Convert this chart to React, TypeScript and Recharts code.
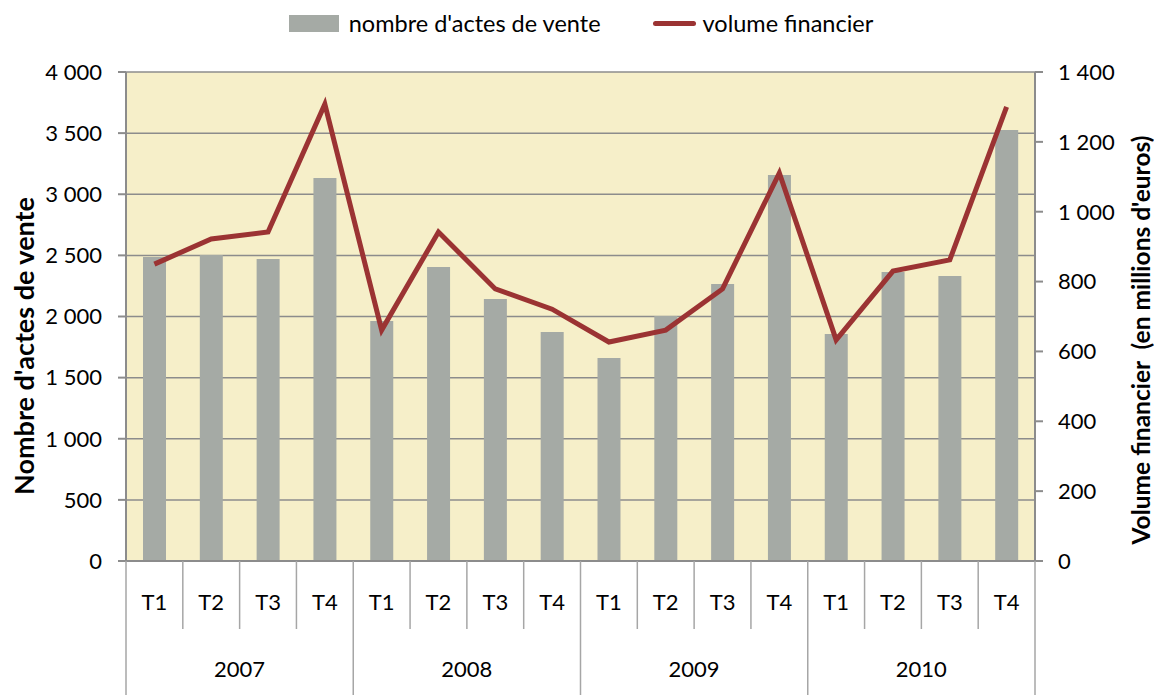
import { Bar, CartesianGrid, ComposedChart, Legend, Line, XAxis, YAxis } from "recharts";

const years = ["2007", "2008", "2009", "2010"];
const quarters = ["T1", "T2", "T3", "T4"];
const ventes = [2487, 2503, 2470, 3133, 1963, 2405, 2143, 1873, 1660, 2004, 2266, 3157, 1857, 2364, 2331, 3525];
const volume = [850, 922, 942, 1308, 661, 942, 779, 721, 627, 661, 779, 1111, 633, 830, 862, 1300];
const leftTicks = [0, 500, 1000, 1500, 2000, 2500, 3000, 3500, 4000];
const rightTicks = [0, 200, 400, 600, 800, 1000, 1200, 1400];

const data = ventes.map((v, i) => ({
  name: quarters[i % 4],
  year: years[Math.floor(i / 4)],
  ventes: v,
  volume: volume[i],
}));

const FONT = "Lato, 'Open Sans', sans-serif";
const GRID = "#8c8c8c";
const SEP = "#a6a6a6";
const PLOT_LEFT = 126;
const PLOT_RIGHT = 1035;
const BAND = (PLOT_RIGHT - PLOT_LEFT) / data.length;

const fmt = (v: number) => String(v).replace(/\B(?=(\d{3})+(?!\d))/g, " ");

function XTick(props: any) {
  const { x, y, payload, index } = props;
  const left = x - BAND / 2;
  const right = x + BAND / 2;
  const yearStart = index % 4 === 0;
  return (
    <g>
      <line x1={left} y1={y} x2={left} y2={yearStart ? y + 134 : y + 68} stroke={SEP} strokeWidth={1.5} />
      {index === data.length - 1 && (
        <line x1={right} y1={y} x2={right} y2={y + 134} stroke={SEP} strokeWidth={1.5} />
      )}
      <text x={x} y={y + 40} dominantBaseline="central" textAnchor="middle" fontSize={22} fontFamily={FONT} fill="#000">
        {payload.value}
      </text>
      {index % 4 === 1 && (
        <text x={right} y={y + 107} dominantBaseline="central" textAnchor="middle" fontSize={22} fontFamily={FONT} fill="#000">
          {data[index].year}
        </text>
      )}
    </g>
  );
}

function LegendContent() {
  return (
    <div
      style={{
        display: "flex",
        justifyContent: "center",
        alignItems: "center",
        fontFamily: FONT,
        fontSize: 23.5,
        color: "#000",
        paddingLeft: 8,
        height: 30,
      }}
    >
      <span style={{ display: "inline-block", width: 50, height: 17, background: "#a5aaa5", marginRight: 10 }} />
      <span>nombre d'actes de vente</span>
      <span style={{ display: "inline-block", width: 43, height: 5, borderRadius: 3, background: "#9b3333", marginLeft: 52, marginRight: 7 }} />
      <span>volume financier</span>
    </div>
  );
}

export default function App() {
  return (
    <div style={{ position: "absolute", left: 0, top: 0 }}>
      <ComposedChart width={1154} height={695} data={data} margin={{ top: 32, right: 0, bottom: 0, left: 0 }}>
        <Legend verticalAlign="top" height={40} content={<LegendContent />} wrapperStyle={{ top: 8, height: 40 }} />
        <CartesianGrid yAxisId="left" vertical={false} stroke={GRID} strokeWidth={1.5} fill="#f6efc9" fillOpacity={1} />
        <XAxis
          dataKey="name"
          interval={0}
          height={134}
          tickSize={0}
          tickMargin={0}
          stroke={GRID}
          strokeWidth={2}
          tick={<XTick />}
        />
        <YAxis
          yAxisId="left"
          width={126}
          domain={[0, 4000]}
          ticks={leftTicks}
          tickFormatter={fmt}
          tickSize={8}
          tickMargin={16}
          stroke={GRID}
          strokeWidth={2}
          tick={{ fontSize: 22, fontFamily: FONT, fill: "#000" }}
        />
        <YAxis
          yAxisId="right"
          orientation="right"
          width={119}
          domain={[0, 1400]}
          ticks={rightTicks}
          tickFormatter={fmt}
          tickSize={8}
          tickMargin={15}
          stroke={GRID}
          strokeWidth={2}
          tick={{ fontSize: 22, fontFamily: FONT, fill: "#000", textAnchor: "start" }}
        />
        <Bar yAxisId="left" dataKey="ventes" name="nombre d'actes de vente" fill="#a5aaa5" barSize={23} isAnimationActive={false} />
        <Line
          yAxisId="right"
          dataKey="volume"
          name="volume financier"
          stroke="#9b3333"
          strokeWidth={5}
          dot={false}
          activeDot={false}
          type="linear"
          isAnimationActive={false}
        />
        <text
          x={23}
          y={346}
          transform="rotate(-90 23 346)"
          textAnchor="middle"
          dominantBaseline="central"
          fontSize={27}
          fontWeight="bold"
          fontFamily={FONT}
          fill="#000"
        >
          Nombre d'actes de vente
        </text>
        <text
          x={1140}
          y={340}
          transform="rotate(-90 1140 340)"
          textAnchor="middle"
          dominantBaseline="central"
          fontSize={24.5}
          fontWeight="bold"
          fontFamily={FONT}
          fill="#000"
          style={{ whiteSpace: "pre" }}
        >
          {"Volume financier  (en millions d'euros)"}
        </text>
      </ComposedChart>
    </div>
  );
}
